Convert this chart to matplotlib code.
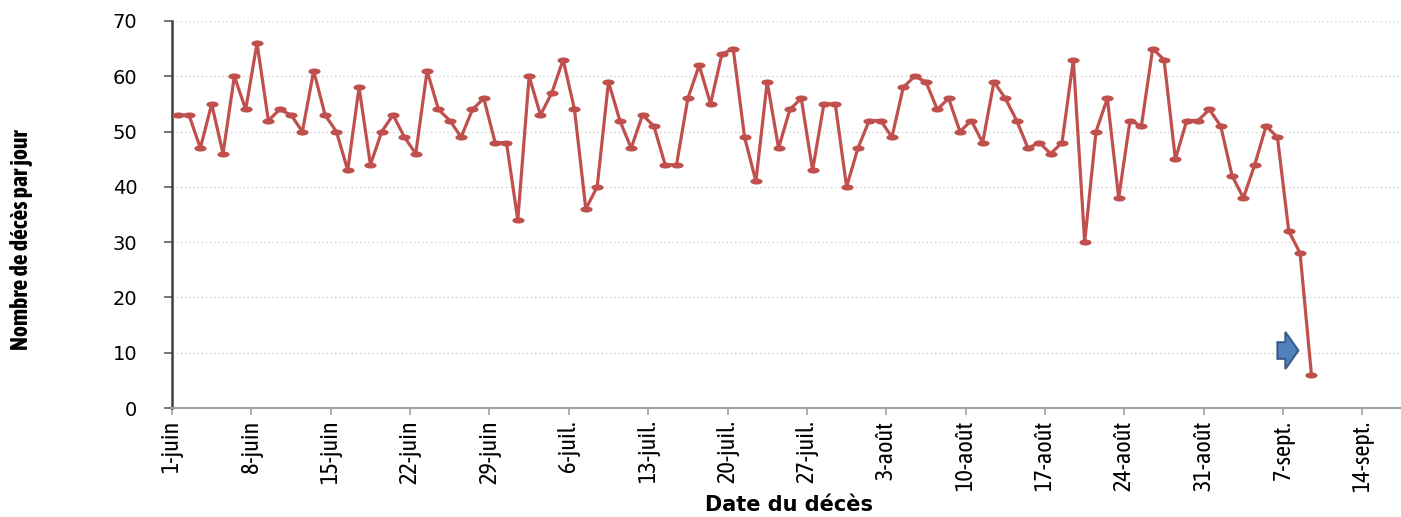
import numpy as np
import matplotlib
matplotlib.use("Agg")
import matplotlib.pyplot as plt
from matplotlib import font_manager
from matplotlib.path import Path
from matplotlib.transforms import Affine2D
from matplotlib.patches import FancyArrow

# nombre de deces par jour, du 1er juin au 9 sept.
deces = [53, 53, 47, 55, 46, 60, 54, 66, 52, 54,
         53, 50, 61, 53, 50, 43, 58, 44, 50, 53,
         49, 46, 61, 54, 52, 49, 54, 56, 48, 48,
         34, 60, 53, 57, 63, 54, 36, 40, 59, 52,
         47, 53, 51, 44, 44, 56, 62, 55, 64, 65,
         49, 41, 59, 47, 54, 56, 43, 55, 55, 40,
         47, 52, 52, 49, 58, 60, 59, 54, 56, 50,
         52, 48, 59, 56, 52, 47, 48, 46, 48, 63,
         30, 50, 56, 38, 52, 51, 65, 63, 45, 52,
         52, 54, 51, 42, 38, 44, 51, 49, 32, 28,
         6]

tick_jours = [0, 7, 14, 21, 28, 35, 42, 49, 56, 63, 70, 77, 84, 91, 98, 105]
tick_labels = ['1-juin', '8-juin', '15-juin', '22-juin', '29-juin', '6-juil.',
               '13-juil.', '20-juil.', '27-juil.', '3-août', '10-août',
               '17-août', '24-août', '31-août', '7-sept.', '14-sept.']
y_ticks = [0, 10, 20, 30, 40, 50, 60, 70]


def has_font(fam):
    try:
        font_manager.findfont(font_manager.FontProperties(family=fam),
                              fallback_to_default=False)
        return True
    except Exception:
        return False


# police etroite (tailles ajustees selon ce qui est installe)
narrow, tick_fs, ylab_fs = 'DejaVu Sans', 12.5, 11
for fam, fs1, fs2 in [('Asap Condensed', 17.5, 17),
                      ('Barlow Semi Condensed', 16, 16),
                      ('Archivo Narrow', 16, 16)]:
    if has_font(fam):
        narrow, tick_fs, ylab_fs = fam, fs1, fs2
        break

fig = plt.figure(figsize=(14.01, 5.17), dpi=100)
ax = fig.add_axes([172 / 1401, 1 - 408 / 517, 1 - 172 / 1401, (408 - 21) / 517])

x = np.arange(len(deces)) + 0.5

# marqueur en ellipse
ell = Path.unit_circle().transformed(Affine2D().scale(1, 0.5))
ax.plot(x, deces, color='#C0504D', lw=2.3, marker=ell, markersize=8.8,
        markeredgewidth=0, zorder=3)

# fleche bleue
ax.add_patch(FancyArrow(97.5, 10.4, 1.85, 0, width=3.0, head_width=6.7,
                        head_length=1.15, length_includes_head=True,
                        facecolor='#4F81BD', edgecolor='#385D8A', lw=1.5,
                        zorder=4))

ax.set_xlim(0, 108.4)
ax.set_ylim(0, 70)

ax.set_yticks(y_ticks)
ax.set_yticklabels([str(v) for v in y_ticks], fontsize=14, family='DejaVu Sans')
ax.set_xticks(tick_jours)
ax.set_xticklabels(tick_labels, rotation=90, fontsize=tick_fs, family=narrow)

ax.yaxis.grid(True, linestyle=(0, (1, 2)), color='#D0D0D0', lw=1)
ax.set_axisbelow(True)

for s in ['top', 'right']:
    ax.spines[s].set_visible(False)
ax.spines['left'].set_color('#404040')
ax.spines['left'].set_linewidth(1.8)
ax.spines['bottom'].set_color('#A0A0A0')
ax.spines['bottom'].set_linewidth(1.5)

ax.tick_params(axis='y', direction='out', length=6, width=1.2, color='#606060', pad=19)
ax.tick_params(axis='x', direction='out', length=5, width=1.2, color='#A0A0A0', pad=4)

fig.text(22 / 1401, 1 - 240 / 517, 'Nombre de décès par jour', rotation=90,
         ha='center', va='center', fontsize=ylab_fs, fontweight='bold', family=narrow)
fig.text(789 / 1401, 1 - 505 / 517, 'Date du décès', ha='center', va='center',
         fontsize=15, fontweight='bold', family='DejaVu Sans')

fig.savefig('out.png', dpi=100)
